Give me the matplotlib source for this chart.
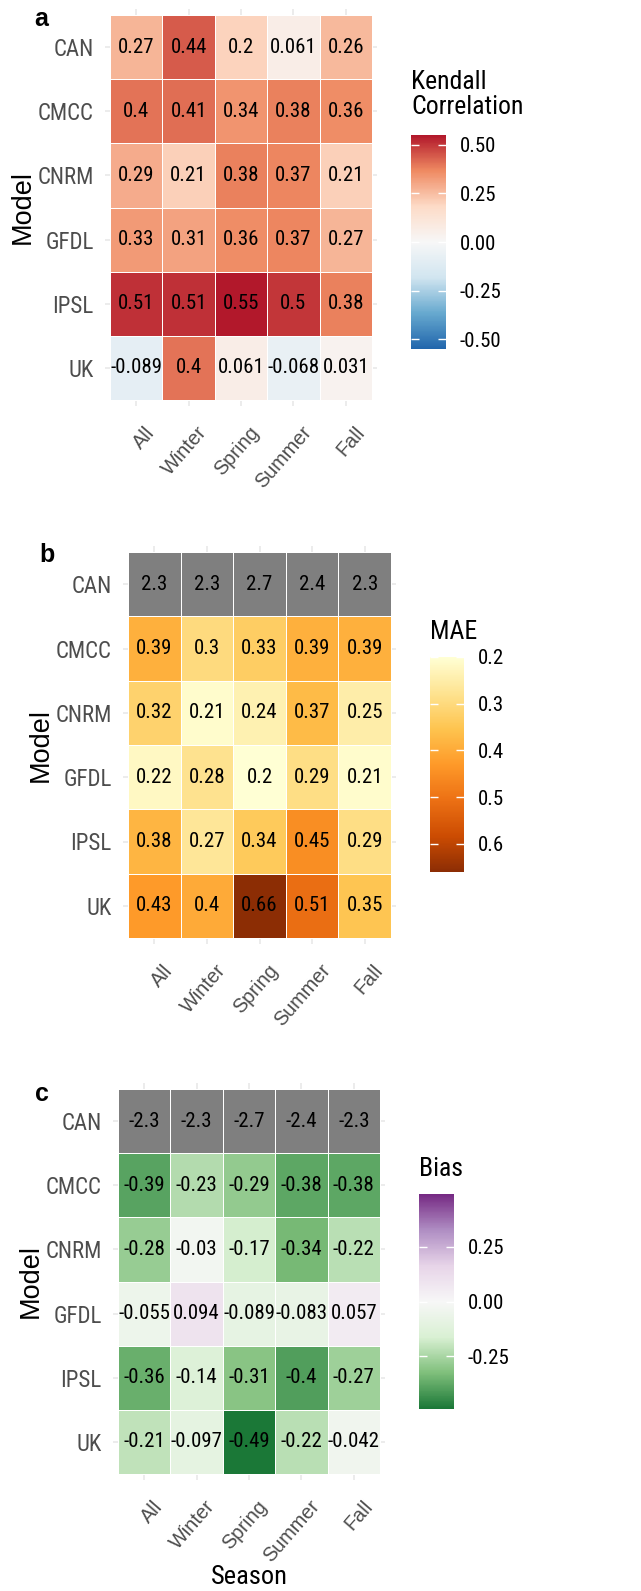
import numpy as np
import matplotlib
matplotlib.use("Agg")
import matplotlib.pyplot as plt
import matplotlib.transforms as mtransforms
from matplotlib.colors import LinearSegmentedColormap, Normalize

NARROW = ['Roboto Condensed', 'Archivo Narrow', 'Liberation Sans', 'DejaVu Sans']
REGULAR = ['Liberation Sans', 'DejaVu Sans']
plt.rcParams['font.family'] = NARROW

models = ["CAN", "CMCC", "CNRM", "GFDL", "IPSL", "UK"]
seasons = ["All", "Winter", "Spring", "Summer", "Fall"]

kendall = [
    [0.27, 0.44, 0.2, 0.061, 0.26],
    [0.4, 0.41, 0.34, 0.38, 0.36],
    [0.29, 0.21, 0.38, 0.37, 0.21],
    [0.33, 0.31, 0.36, 0.37, 0.27],
    [0.51, 0.51, 0.55, 0.5, 0.38],
    [-0.089, 0.4, 0.061, -0.068, 0.031],
]
mae = [
    [2.3, 2.3, 2.7, 2.4, 2.3],
    [0.39, 0.3, 0.33, 0.39, 0.39],
    [0.32, 0.21, 0.24, 0.37, 0.25],
    [0.22, 0.28, 0.2, 0.29, 0.21],
    [0.38, 0.27, 0.34, 0.45, 0.29],
    [0.43, 0.4, 0.66, 0.51, 0.35],
]
bias = [
    [-2.3, -2.3, -2.7, -2.4, -2.3],
    [-0.39, -0.23, -0.29, -0.38, -0.38],
    [-0.28, -0.03, -0.17, -0.34, -0.22],
    [-0.055, 0.094, -0.089, -0.083, 0.057],
    [-0.36, -0.14, -0.31, -0.4, -0.27],
    [-0.21, -0.097, -0.49, -0.22, -0.042],
]

# brewer palettes (7 classes), as used by scale_fill_distiller
rdbu = LinearSegmentedColormap.from_list(
    "rdbu", ["#2166AC", "#67A9CF", "#D1E5F0", "#F7F7F7", "#FDDBC7", "#EF8A62", "#B2182B"])
ylorbr = LinearSegmentedColormap.from_list(
    "ylorbr", ["#FFFFD4", "#FEE391", "#FEC44F", "#FE9929", "#EC7014", "#CC4C02", "#8C2D04"])
prgn = LinearSegmentedColormap.from_list(
    "prgn", ["#1B7837", "#7FBF7B", "#D9F0D3", "#F7F7F7", "#E7D4E8", "#AF8DC3", "#762A83"])
for cm in (rdbu, ylorbr, prgn):
    cm.set_bad("#7F7F7F")

W, H = 641, 1591
fig = plt.figure(figsize=(W / 100, H / 100), dpi=100)
fig.patch.set_facecolor("white")


def box(x0, y0, x1, y1):
    return [x0 / W, 1 - y1 / H, (x1 - x0) / W, (y1 - y0) / H]


def panel(tiles, vals, cmap, lo, hi, cbar, ticks, tick_labels, title, title_xy,
          letter, letter_xy, ylab_x, reverse=False):
    x0, y0, x1, y1 = tiles
    cw = (x1 - x0) / len(seasons)
    ch = (y1 - y0) / len(models)
    ax = fig.add_axes(box(x0 - 0.1 * cw, y0 - 0.1 * ch, x1 + 0.1 * cw, y1 + 0.1 * ch))
    v = np.array(vals, dtype=float)
    shown = np.ma.masked_outside(v, lo - 1e-9, hi + 1e-9)
    mesh = ax.pcolormesh(np.arange(len(seasons) + 1) - 0.5, np.arange(len(models) + 1) - 0.5,
                         shown, cmap=cmap, norm=Normalize(lo, hi),
                         edgecolors="white", linewidth=0.7, zorder=2)
    for i in range(len(models)):
        for j in range(len(seasons)):
            ax.text(j, i, f"{v[i, j]:g}", ha="center", va="center",
                    fontsize=15, color="black", zorder=3)
    ax.set_xlim(-0.6, len(seasons) - 0.4)
    ax.set_ylim(len(models) - 0.4, -0.6)
    ax.set_xticks(range(len(seasons)))
    ax.set_yticks(range(len(models)))
    ax.set_xticklabels([])
    # rotated season labels, top-right corner hanging just under each column
    lab_tr = ax.get_xaxis_transform() + mtransforms.ScaledTranslation(
        0.08, -0.166, fig.dpi_scale_trans)
    for j, s in enumerate(seasons):
        ax.text(j, 0, s, transform=lab_tr, rotation=49, ha="right", va="top",
                rotation_mode="anchor", fontsize=14.3, color="#4D4D4D",
                family=REGULAR)
    ax.set_yticklabels(models, fontsize=16.5, color="#4D4D4D")
    ax.tick_params(axis="x", length=0)
    ax.tick_params(axis="y", length=0, pad=8)
    ax.grid(True, color="#EBEBEB", linewidth=1.3)
    ax.set_axisbelow(True)
    for s in ax.spines.values():
        s.set_visible(False)

    fig.text(ylab_x / W, 1 - (y0 + y1) / 2 / H, "Model", rotation=90,
             ha="center", va="center", fontsize=19.5, family=REGULAR)
    fig.text(letter_xy[0] / W, 1 - letter_xy[1] / H, letter, ha="center",
             va="center", fontsize=18, fontweight="bold", family=REGULAR)

    cax = fig.add_axes(box(*cbar))
    cb = fig.colorbar(mesh, cax=cax, ticks=ticks)
    cb.outline.set_visible(False)
    cb.ax.set_yticklabels(tick_labels)
    cax.tick_params(axis="y", which="both", direction="in", length=6, width=1,
                    color="white", left=True, right=True, labelsize=15, pad=10)
    if reverse:
        cax.invert_yaxis()
    fig.text(title_xy[0] / W, 1 - title_xy[1] / H, title, ha="left", va="top",
             fontsize=18.5, linespacing=1.05)
    return ax


panel((110, 15, 372, 400), kendall, rdbu, -0.55, 0.55, (411, 135, 446, 349),
      [-0.5, -0.25, 0, 0.25, 0.5], ["-0.50", "-0.25", "0.00", "0.25", "0.50"],
      "Kendall\nCorrelation", (411, 70), "a", (41, 19), 23)

panel((128, 552, 391, 938), mae, ylorbr, 0.2, 0.66, (430, 657, 464, 872),
      [0.2, 0.3, 0.4, 0.5, 0.6], ["0.2", "0.3", "0.4", "0.5", "0.6"],
      "MAE", (430, 620), "b", (47, 555), 41, reverse=True)

panel((118, 1089, 380, 1474), bias, prgn, -0.49, 0.49, (419, 1194, 454, 1409),
      [-0.25, 0, 0.25], ["-0.25", "0.00", "0.25"],
      "Bias", (419, 1157), "c", (42, 1094), 31)

fig.text(249 / W, 1 - 1577 / H, "Season", ha="center", va="center", fontsize=19)

fig.savefig("out.png", dpi=100, facecolor="white")
